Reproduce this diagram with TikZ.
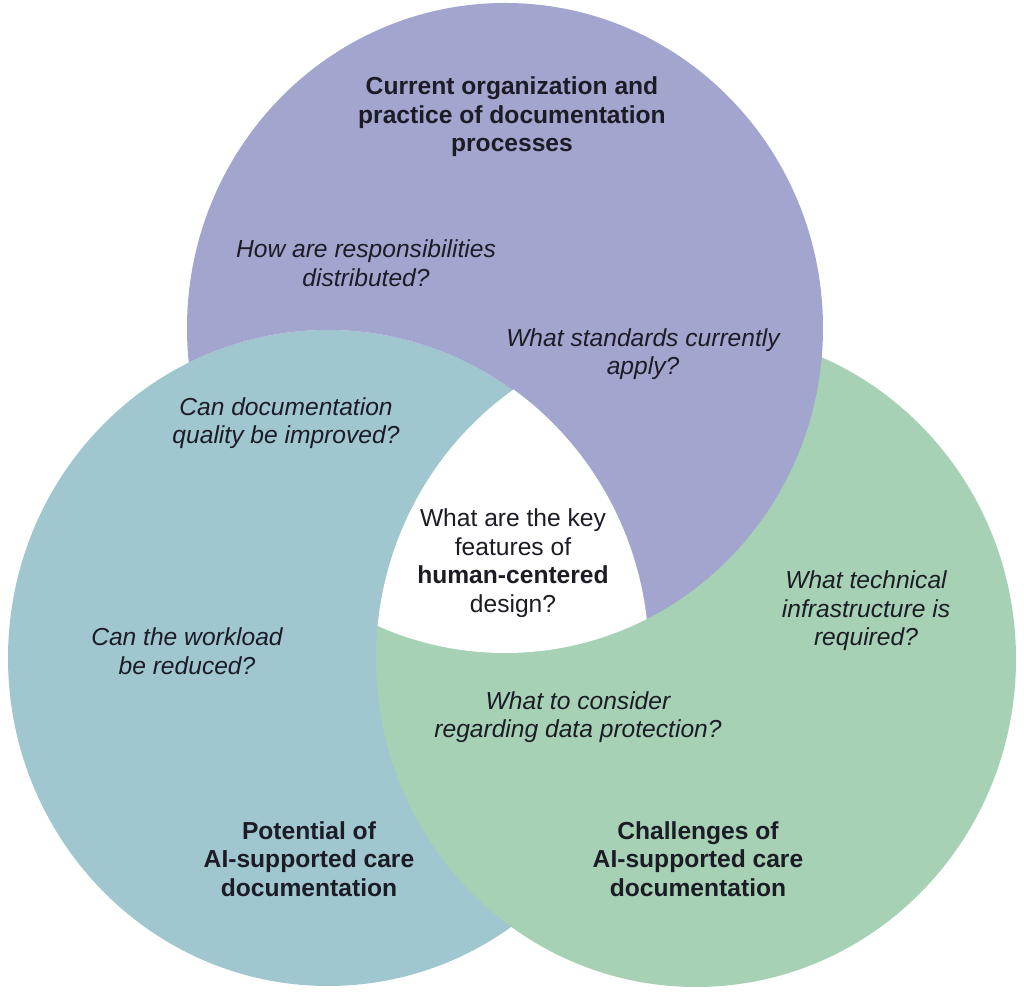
\documentclass[tikz,border=0pt]{standalone}
\usepackage{fontspec}
\setmainfont{Liberation Sans}
\usepackage{xcolor}
\definecolor{purpleset}{RGB}{162,165,206}
\definecolor{blueset}{RGB}{160,198,207}
\definecolor{greenset}{RGB}{166,209,180}
\definecolor{inkset}{RGB}{28,28,38}

\begin{document}
\begin{tikzpicture}[x=0.2mm, y=-0.2mm,
		txt/.style={align=center, inner sep=0pt, text=inkset, font=\fontsize{14}{16.2}\selectfont},
		question/.style={txt, font=\fontsize{14}{16.2}\selectfont\itshape},
		heading/.style={txt, font=\fontsize{14}{16.2}\selectfont\bfseries}]
			\useasboundingbox (0,0) rectangle (1024,992);
			% the three sets
			\fill[blueset] (328,658) ellipse [x radius=320, y radius=328];
			\fill[greenset] (696,659) ellipse [x radius=320, y radius=328];
			\begin{scope}[even odd rule] % purple set without the blue one
				\clip (0,0) rectangle (1024,992)
				(328,658) ellipse [x radius=320, y radius=328];
				\fill[purpleset] (505,328) ellipse [x radius=318, y radius=325];
			\end{scope}
			\begin{scope} % common part
				\clip (696,659) ellipse [x radius=320, y radius=328];
				\clip (505,328) ellipse [x radius=318, y radius=325];
				\fill[white] (328,658) ellipse [x radius=321, y radius=329];
			\end{scope}
			
			\node[heading] (practice) at (512,117) {Current organization and\\practice of documentation\\processes};
			\node[question] (resp) at (366,263) {How are responsibilities\\distributed?};
			\node[question] (standards) at (643,354) {What standards currently\\apply?};
			\node[question] (quality) at (286,423) {Can documentation\\quality be improved?};
			\node[txt] (design) at (513,563) {What are the key\\features of\\\textbf{human-centered}\\design?};
			\node[question] (infra) at (866,611) {What technical\\infrastructure is\\required?};
			\node[question] (workload) at (187,651) {Can the workload\\be reduced?};
			\node[question] (privacy) at (578,717) {What to consider\\regarding data protection?};
			\node[heading] (potential) at (309,859) {Potential of\\AI-supported care\\documentation};
			\node[heading] (challenges) at (698,859) {Challenges of\\AI-supported care\\documentation};
			
		\end{tikzpicture}
\end{document}
